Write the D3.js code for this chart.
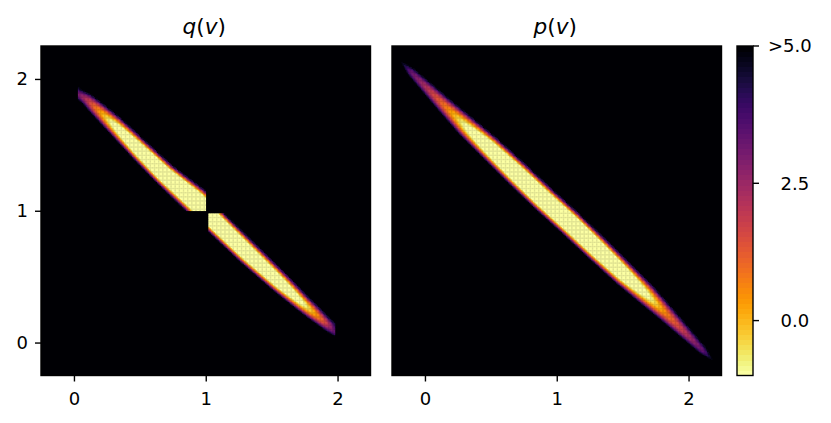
<!DOCTYPE html>
<html><head><meta charset="utf-8">
<script src="https://cdn.jsdelivr.net/npm/d3@7"></script>
<style>html,body{margin:0;padding:0;background:#fff}svg{display:block}text{font-family:"DejaVu Sans";fill:#000}</style>
</head><body><svg id="c" width="831" height="423"></svg>
<script>
// Ridge profile: s = x - y along the ridge
const qUpperS    = [-1.93,-1.90,-1.87,-1.75,-1.63,-1.34,-0.96,-0.60,-0.16,0.00];
const qUpperMid  = [-0.05,-0.06,-0.08,-0.054,-0.05,-0.04,-0.04,-0.035,0,0];
const qUpperHalf = [0.0,0.035,0.052,0.066,0.08,0.10,0.114,0.125,0.152,0.153];
const qUpperMin  = [4.2,3.8,3.2,2.0,0.95,-1.4,-3.6,-4.6,-5,-5];
const qLowerS    = [0.00,0.157,0.65,1.12,1.45,1.58,1.75,1.83,1.93];
const qLowerMid  = [-0.01,-0.009,0,0.019,0.035,0.045,0.058,0.065,0.05];
const qLowerHalf = [0.125,0.13,0.126,0.111,0.09,0.083,0.068,0.065,0.02];
const qLowerMin  = [-5,-5,-4.4,-3.0,-1.0,0.0,1.5,2.6,3.8];
const pS    = [-2.32,-2.17,-1.86,-1.62,-1.32,-1.00,-0.60,-0.20,0.20,0.60,1.00,1.32,1.62,1.86,2.17,2.32];
const pMid  = [-0.05,-0.05,-0.05,-0.05,-0.045,-0.03,-0.02,-0.01,0.01,0.02,0.03,0.045,0.05,0.05,0.05,0.05];
const pHalf = [0.0,0.044,0.07,0.089,0.114,0.128,0.137,0.14,0.14,0.137,0.128,0.114,0.089,0.07,0.044,0.0];
const pMin  = [5,3.3,1.8,0.7,-1.2,-3.2,-4.5,-5,-5,-4.5,-3.2,-1.2,0.7,1.8,3.3,5];
const ticksXY = [0,1,2];
const barTicks = [0,2.5,5];
const barLabels = ["0.0","2.5",">5.0"];
const titles = [["q","v"],["p","v"]];

const svg = d3.select("#c");
const size = 329.5, topY = 46;
const dom = [-0.25,2.25];
const color = d3.scaleSequential(t=>d3.interpolateInferno(1-t)).domain([-1,5]);
const nCells = 250, cell = (dom[1]-dom[0])/nCells;
const grid = d3.range(nCells).map(i=>dom[0]+i*cell);
const eps=1e-6;

function profile(S,Mid,Half,Min){
  const m=d3.scaleLinear(S,Mid).clamp(true),h=d3.scaleLinear(S,Half).clamp(true),p=d3.scaleLinear(S,Min).clamp(true);
  return (x,y)=>{const s=x-y; if(s<S[0]||s>S[S.length-1])return 5;
    const hw=h(s); if(hw<=0)return 5; const d=Math.abs(x+y-2-m(s)); if(d>=hw)return 5;
    const q=d/hw; return p(s)+(5-p(s))*q*q;};
}
const qU=profile(qUpperS,qUpperMid,qUpperHalf,qUpperMin), qL=profile(qLowerS,qLowerMid,qLowerHalf,qLowerMin), pF=profile(pS,pMid,pHalf,pMin);
function qField(x0,y0){const x=x0+cell/2,y=y0+cell/2;
  if(x0<1-eps&&y0>=1-eps&&x0>=0.025)return qU(x,y);
  if(x0>=1.0125-eps&&y0+cell<=0.9875+eps&&x0<1.98)return qL(x,y);
  return 5;}
function pField(x0,y0){return pF(x0+cell/2,y0+cell/2);}

function panel(left,field,title,showY){
  const x=d3.scaleLinear(dom,[left,left+size]), y=d3.scaleLinear(dom,[topY+size,topY]);
  const g=svg.append("g");
  g.append("rect").attr("x",left).attr("y",topY).attr("width",size).attr("height",size).attr("fill",color(5));
  const cells=[];
  grid.forEach(a=>grid.forEach(b=>{const v=field(a,b); if(v<4.98)cells.push({a,b,v});}));
  g.append("g").selectAll("rect").data(cells).join("rect")
    .attr("x",d=>x(d.a)).attr("y",d=>y(d.b+cell)).attr("width",x(cell)-x(0)+0.3).attr("height",y(0)-y(cell)+0.3)
    .attr("fill",d=>color(Math.max(-1,d.v)));
  g.append("rect").attr("x",left).attr("y",topY).attr("width",size).attr("height",size).attr("fill","none").attr("stroke","#000").attr("stroke-width",1.4);
  const ax=g.append("g").attr("transform",`translate(0,${topY+size})`).call(d3.axisBottom(x).tickValues(ticksXY).tickFormat(d3.format("d")).tickSize(6).tickPadding(10.5));
  ax.select(".domain").remove();ax.selectAll("line").attr("stroke-width",1.4);ax.selectAll("text").attr("font-size",18).attr("font-family","DejaVu Sans");
  if(showY){const ay=g.append("g").attr("transform",`translate(${left},0)`).call(d3.axisLeft(y).tickValues(ticksXY).tickFormat(d3.format("d")).tickSize(6).tickPadding(7));
    ay.select(".domain").remove();ay.selectAll("line").attr("stroke-width",1.4);ay.selectAll("text").attr("font-size",18).attr("font-family","DejaVu Sans");}
  const t=g.append("text").attr("x",left+size/2-1.5).attr("y",34).attr("text-anchor","middle").attr("font-size",21.6);
  t.append("tspan").attr("font-style","italic").text(title[0]);
  t.append("tspan").text("(");
  t.append("tspan").attr("font-style","italic").text(title[1]);
  t.append("tspan").text(")");
}
panel(41,qField,titles[0],true);
panel(392,pField,titles[1],false);

// colour bar
const bx=737,bw=16;
const by=d3.scaleLinear([-1,5],[topY+size,topY]);
const steps=d3.range(64).map(i=>-1+i*6/64);
svg.append("g").attr("shape-rendering","crispEdges").selectAll("rect").data(steps).join("rect")
  .attr("x",bx).attr("width",bw).attr("y",d=>by(d+6/64)).attr("height",d=>by(d)-by(d+6/64)+0.5).attr("fill",d=>color(d+3/64));
svg.append("rect").attr("x",bx).attr("y",topY).attr("width",bw).attr("height",size).attr("fill","none").attr("stroke","#000").attr("stroke-width",1.4);
const bt=svg.append("g").selectAll("g").data(barTicks).join("g").attr("transform",d=>`translate(0,${by(d)})`);
bt.append("line").attr("x1",bx+bw).attr("x2",bx+bw+6).attr("stroke","#000").attr("stroke-width",1.4);
bt.append("text").attr("x",(d,i)=>i==2?768:780.5).attr("dy","0.36em").attr("font-size",18).text((d,i)=>barLabels[i]);
</script></body></html>
